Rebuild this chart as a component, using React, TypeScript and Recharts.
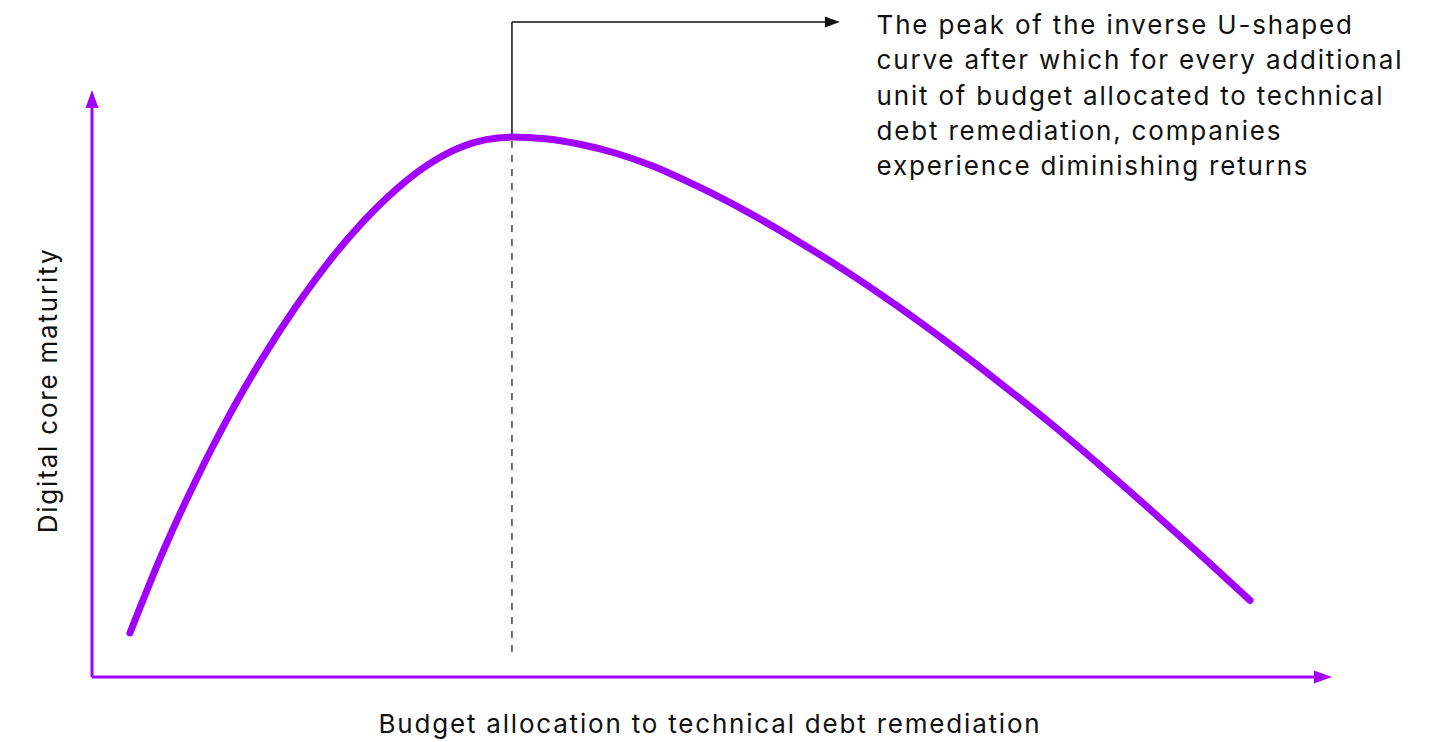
import React from 'react';
import { LineChart, Line, XAxis, YAxis, ReferenceLine, ReferenceDot, Label } from 'recharts';

// Curve data (budget allocation vs digital core maturity)
const budgetValues = [
  3.1, 5.8, 8.5, 11.19, 13.89, 16.58, 19.28, 21.98, 24.67, 27.37, 30.07, 32.19, 34.31,
  37.01, 39.87, 42.73, 45.59, 49.67, 53.76, 57.84, 61.93, 66.01, 70.1, 74.18, 78.27, 82.35, 86.44, 90.52, 94.61,
];
const maturityValues = [
  7.71, 21.96, 34.5, 45.73, 55.71, 64.61, 72.54, 79.37, 85.06, 89.61, 92.75, 94.1, 94.55,
  94.28, 93.3, 91.77, 89.68, 85.74, 81.19, 76.11, 70.6, 64.64, 58.25, 51.51, 44.5, 37.06, 29.35, 21.47, 13.42,
];

const annotationLines = [
  'The peak of the inverse U-shaped',
  'curve after which for every additional',
  'unit of budget allocated to technical',
  'debt remediation, companies',
  'experience diminishing returns',
];
const xAxisTitle = 'Budget allocation to technical debt remediation';
const yAxisTitle = 'Digital core maturity';

// annotation anchor values (data units)
const ANNOT_Y = 114.7;
const ANNOT_ARROW_X = 61.1;
const ANNOT_LINE_END_X = 59.9;
const ANNOT_TEXT_X = 64.1;
const DASH_BOTTOM_Y = 4.4;

const PURPLE = '#A100FF';
const FONT = 'Inter, "Noto Sans", sans-serif';
const TEXT_COLOR = '#111111';
const LS = 1.8;

const curveData = budgetValues.map((x, i) => ({ x, y: maturityValues[i] }));
const peak = curveData.reduce((a, b) => (b.y > a.y ? b : a), curveData[0]);

const XArrow = (props: any) => {
  const { cx, cy } = props;
  return <polygon points={`${cx - 2},${cy - 6.5} ${cx + 16},${cy} ${cx - 2},${cy + 6.5}`} fill={PURPLE} />;
};
const YArrow = (props: any) => {
  const { cx, cy } = props;
  return <polygon points={`${cx - 6.5},${cy + 2} ${cx},${cy - 16} ${cx + 6.5},${cy + 2}`} fill={PURPLE} />;
};
const AnnotArrow = (props: any) => {
  const { cx, cy } = props;
  return <polygon points={`${cx - 15},${cy - 5.5} ${cx},${cy} ${cx - 15},${cy + 5.5}`} fill={TEXT_COLOR} />;
};
const AnnotText = (props: any) => {
  const { cx, cy } = props;
  return (
    <text x={cx} y={cy} fontFamily={FONT} fontSize={26} letterSpacing={LS} fill={TEXT_COLOR}>
      {annotationLines.map((l, i) => (
        <tspan key={i} x={cx} y={cy + 12 + i * 35.3}>
          {l}
        </tspan>
      ))}
    </text>
  );
};

const XTitle = (props: any) => {
  const vb = props.viewBox || {};
  return (
    <text x={vb.x + vb.width / 2 + 6} y={vb.y + 56} textAnchor="middle" fontFamily={FONT} fontSize={26} letterSpacing={LS} fill={TEXT_COLOR}>
      {xAxisTitle}
    </text>
  );
};
const YTitle = (props: any) => {
  const vb = props.viewBox || {};
  const x = vb.x + 57;
  const y = vb.y + vb.height / 2 - 1;
  return (
    <text x={x} y={y} transform={`rotate(-90, ${x}, ${y})`} textAnchor="middle" fontFamily={FONT} fontSize={26} letterSpacing={LS} fill={TEXT_COLOR}>
      {yAxisTitle}
    </text>
  );
};

export default function App() {
  return (
    <div style={{ position: 'absolute', left: 0, top: 0, background: '#fff' }}>
      <LineChart width={1443} height={742} data={curveData} margin={{ top: 106, right: 127, bottom: 0, left: 0 }}>
        <XAxis
          type="number"
          dataKey="x"
          domain={[0, 100]}
          allowDataOverflow
          tick={false}
          tickLine={false}
          height={65}
          axisLine={{ stroke: PURPLE, strokeWidth: 3 }}
        >
          <Label content={XTitle} />
        </XAxis>
        <YAxis
          type="number"
          domain={[0, 100]}
          allowDataOverflow
          tick={false}
          tickLine={false}
          width={92}
          axisLine={{ stroke: PURPLE, strokeWidth: 3 }}
        >
          <Label content={YTitle} />
        </YAxis>
        <ReferenceLine
          segment={[{ x: peak.x, y: DASH_BOTTOM_Y }, { x: peak.x, y: peak.y }]}
          stroke="#444"
          strokeWidth={1.5}
          strokeDasharray="7 7"
          ifOverflow="visible"
        />
        <ReferenceLine
          segment={[{ x: peak.x, y: peak.y }, { x: peak.x, y: ANNOT_Y }]}
          stroke={TEXT_COLOR}
          strokeWidth={1.5}
          ifOverflow="visible"
        />
        <ReferenceLine
          segment={[{ x: peak.x, y: ANNOT_Y }, { x: ANNOT_LINE_END_X, y: ANNOT_Y }]}
          stroke={TEXT_COLOR}
          strokeWidth={1.5}
          ifOverflow="visible"
        />
        <ReferenceDot x={ANNOT_ARROW_X} y={ANNOT_Y} ifOverflow="visible" shape={AnnotArrow} />
        <ReferenceDot x={ANNOT_TEXT_X} y={ANNOT_Y} ifOverflow="visible" shape={AnnotText} />
        <ReferenceDot x={100} y={0} ifOverflow="visible" shape={XArrow} />
        <ReferenceDot x={0} y={100} ifOverflow="visible" shape={YArrow} />
        <Line
          type="monotone"
          dataKey="y"
          stroke={PURPLE}
          strokeWidth={7}
          strokeLinecap="round"
          dot={false}
          activeDot={false}
          isAnimationActive={false}
        />
      </LineChart>
    </div>
  );
}
